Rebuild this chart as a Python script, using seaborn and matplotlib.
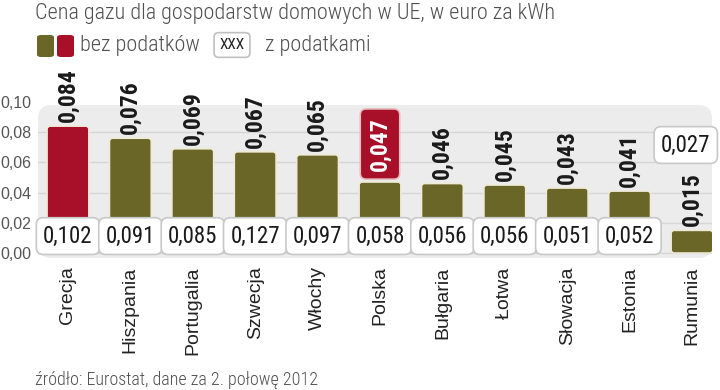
import matplotlib.pyplot as plt
import seaborn as sns
from matplotlib.patches import FancyBboxPatch
from matplotlib import font_manager

countries = ['Grecja', 'Hiszpania', 'Portugalia', 'Szwecja', 'Włochy', 'Polska',
             'Bułgaria', 'Łotwa', 'Słowacja', 'Estonia', 'Rumunia']
net_price = [0.084, 0.076, 0.069, 0.067, 0.065, 0.047, 0.046, 0.045, 0.043, 0.041, 0.015]
gross_price = [0.102, 0.091, 0.085, 0.127, 0.097, 0.058, 0.056, 0.056, 0.051, 0.052, 0.027]
y_ticks = [0.0, 0.02, 0.04, 0.06, 0.08, 0.10]

OLIVE = '#6a6628'
RED = '#a8102a'

available = {f.name for f in font_manager.fontManager.ttflist}


def pick(*cands):
    return next((c for c in cands if c in available), 'DejaVu Sans')


NARROW = pick('Roboto Condensed', 'Archivo Narrow', 'PT Sans Narrow', 'Barlow Condensed')
REGULAR = pick('Liberation Sans', 'Arimo', 'Roboto')


def fmt(v, nd=3):
    return f'{v:.{nd}f}'.replace('.', ',')


sns.set_style('white')
plt.rcParams['font.family'] = [REGULAR, 'DejaVu Sans']

W, H = 720, 390
fig = plt.figure(figsize=(W / 100, H / 100), dpi=100)

# axes placed in pixel terms: left 38, right 712, bottom 258, top 100
ax = fig.add_axes([38 / W, 1 - 258 / H, 674 / W, 158 / H])

colors = [RED if c == 'Grecja' else OLIVE for c in countries]
sns.barplot(x=countries, y=net_price, hue=countries, palette=colors, legend=False,
            width=0.67, saturation=1, ax=ax)

ax.set_xlim(-0.48, 10.32)
ax.set_ylim(-0.0033, 0.1013)

# swap the plain rectangles for slightly rounded ones
for bar in list(ax.patches):
    x, y, w, h = bar.get_x(), bar.get_y(), bar.get_width(), bar.get_height()
    ax.add_patch(FancyBboxPatch((x, y), w, h, boxstyle='round,pad=0,rounding_size=0.05',
                                mutation_aspect=0.0413, fc=bar.get_facecolor(),
                                ec='#eeead6', lw=1.2, zorder=3))
    bar.set_visible(False)

# grey rounded panel behind the bars
panel = FancyBboxPatch((0, 0), 1, 0.968, boxstyle='round,pad=0,rounding_size=0.02',
                       mutation_aspect=674 / 158, transform=ax.transAxes,
                       facecolor='#ececec', edgecolor='none', zorder=0)
ax.add_patch(panel)

ax.set_yticks(y_ticks)
ax.set_yticklabels([fmt(v, 2) for v in y_ticks], fontsize=11.5, color='#555555')
ax.tick_params(axis='y', length=0, pad=5)
ax.tick_params(axis='x', length=0, pad=6)
ax.set_xticks(range(len(countries)))
ax.set_xticklabels(countries, rotation=90, fontsize=14, color='#222222', va='top')
ax.grid(axis='y', color='#d6d6d6', linewidth=1, zorder=1)
ax.set_axisbelow(True)
ax.get_ygridlines()[-1].set_visible(False)
for s in ax.spines.values():
    s.set_visible(False)
ax.set_facecolor('none')

for i, (c, n, g) in enumerate(zip(countries, net_price, gross_price)):
    if c == 'Polska':
        ax.annotate(fmt(n), (i, n), xytext=(0, 8), textcoords='offset points',
                    rotation=90, ha='center', va='bottom', fontsize=17,
                    fontweight='bold', family=NARROW, color='white', zorder=5,
                    bbox=dict(boxstyle='round,pad=0.35,rounding_size=0.25',
                              fc=RED, ec='#e6c0c0', lw=1.2))
    else:
        ax.annotate(fmt(n), (i, n), xytext=(0, 3), textcoords='offset points',
                    rotation=90, ha='center', va='bottom', fontsize=17,
                    fontweight='bold', family=NARROW, color='#1a1a1a', zorder=5)
    # Rumunia's box sits above its short bar, nudged left to stay on the panel
    gx, gy = (i - 0.1, 0.0715) if c == 'Rumunia' else (i, 0.0112)
    ax.text(gx, gy, fmt(g), ha='center', va='center', fontsize=16.5, family=NARROW,
            color='#1a1a1a', zorder=6,
            bbox=dict(boxstyle='round,pad=0.3,rounding_size=0.3',
                      fc='white', ec='#c8c8c8', lw=1.2))

# title, legend and source
fig.text(35 / W, 1 - 13 / H, 'Cena gazu dla gospodarstw domowych w UE, w euro za kWh',
         ha='left', va='center', fontsize=16, family=NARROW, fontweight='light',
         color='#505050')
fig.patches.append(FancyBboxPatch((37 / W, 1 - 57 / H), 17 / W, 22 / H,
                                  boxstyle='round,pad=0,rounding_size=0.006',
                                  transform=fig.transFigure, fc=OLIVE, ec='none'))
fig.patches.append(FancyBboxPatch((57 / W, 1 - 57 / H), 17 / W, 22 / H,
                                  boxstyle='round,pad=0,rounding_size=0.006',
                                  transform=fig.transFigure, fc=RED, ec='none'))
fig.text(80 / W, 1 - 45 / H, 'bez podatków', ha='left', va='center', fontsize=16,
         family=NARROW, fontweight='light', color='#505050')
fig.text(232 / W, 1 - 45 / H, 'XXX', ha='center', va='center', fontsize=11,
         family=NARROW, color='#222222',
         bbox=dict(boxstyle='round,pad=0.35,rounding_size=0.3', fc='white',
                   ec='#c0c0c0', lw=1.2))
fig.text(265 / W, 1 - 45 / H, 'z podatkami', ha='left', va='center', fontsize=16,
         family=NARROW, fontweight='light', color='#505050')
fig.text(35 / W, 1 - 380 / H, 'źródło: Eurostat, dane za 2. połowę 2012',
         ha='left', va='center', fontsize=13, family=NARROW, fontweight='light',
         color='#505050')

fig.savefig('out.png', dpi=100)
